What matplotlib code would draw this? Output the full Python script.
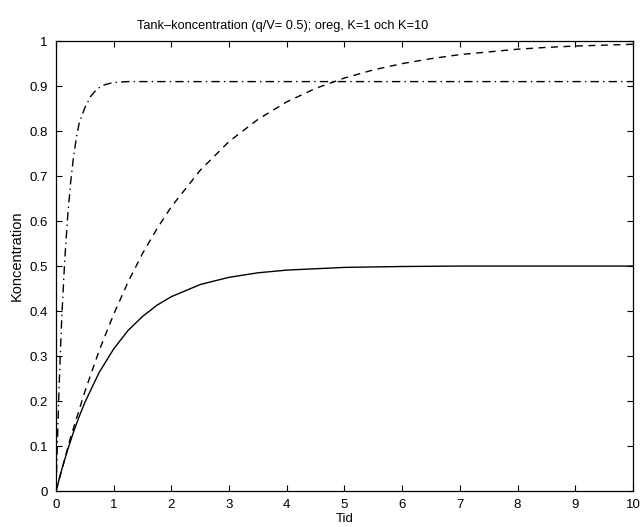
import matplotlib
matplotlib.use("Agg")
import matplotlib.pyplot as plt
import numpy as np

plt.rcParams['font.family'] = ['Liberation Sans', 'DejaVu Sans']

# values
t_oreg = [0, 0.25, 0.5, 0.75, 1, 1.25, 1.5, 1.75, 2, 2.5, 3, 3.5, 4, 4.5, 5, 5.5, 6, 6.5, 7, 7.5, 8, 8.5, 9, 9.5, 10]
c_oreg = [0, 0.118, 0.221, 0.313, 0.393, 0.465, 0.528, 0.583, 0.632, 0.713, 0.777, 0.826, 0.865, 0.895, 0.918,
          0.936, 0.950, 0.961, 0.970, 0.976, 0.982, 0.986, 0.989, 0.991, 0.993]

t_k1 = [0, 0.1, 0.2, 0.3, 0.4, 0.5, 0.75, 1, 1.25, 1.5, 1.75, 2, 2.5, 3, 3.5, 4, 4.5, 5, 6, 7, 8, 10]
c_k1 = [0, 0.048, 0.091, 0.130, 0.165, 0.197, 0.264, 0.316, 0.357, 0.388, 0.413, 0.432, 0.459, 0.475, 0.485,
        0.491, 0.494, 0.497, 0.499, 0.5, 0.5, 0.5]

t_k10 = [0, 0.025, 0.05, 0.075, 0.1, 0.15, 0.2, 0.25, 0.3, 0.35, 0.4, 0.5, 0.6, 0.7, 0.8, 0.9, 1, 1.25, 1.5, 2, 3, 10]
c_k10 = [0, 0.115, 0.218, 0.307, 0.386, 0.511, 0.607, 0.682, 0.739, 0.783, 0.817, 0.852, 0.877, 0.892, 0.901,
         0.905, 0.908, 0.910, 0.910, 0.910, 0.910, 0.910]

xticks = list(range(0, 11))
yticks = [0, 0.1, 0.2, 0.3, 0.4, 0.5, 0.6, 0.7, 0.8, 0.9, 1]
yticklabels = ['0', '0.1', '0.2', '0.3', '0.4', '0.5', '0.6', '0.7', '0.8', '0.9', '1']

fig = plt.figure(figsize=(6.41, 5.27), dpi=100)
ax = fig.add_axes([0.0874, 0.0683, 0.9, 0.8537])

ax.plot(t_oreg, c_oreg, color='black', linewidth=1.0, linestyle=(0, (5, 4)))
ax.plot(t_k1, c_k1, color='black', linewidth=1.0, linestyle='-')
ax.plot(t_k10, c_k10, color='black', linewidth=1.0, linestyle=(0, (6, 3, 1, 3)))

ax.set_xlim(0, 10)
ax.set_ylim(0, 1)
ax.set_xticks(xticks)
ax.set_xticklabels([str(v) for v in xticks], fontsize=9.5)
ax.set_yticks(yticks)
ax.set_yticklabels(yticklabels, fontsize=9.5)
ax.tick_params(direction='in', top=True, right=True, length=4, width=0.8, pad=6)
for s in ax.spines.values():
    s.set_linewidth(0.9)

ax.set_xlabel('Tid', fontsize=9.5, labelpad=1)
ax.set_ylabel('Koncentration', fontsize=10.5, labelpad=3)
ax.yaxis.set_label_coords(-0.056, 0.524)
ax.set_title('Tank\u2013koncentration (q/V= 0.5); oreg, K=1 och K=10', fontsize=9.2, pad=9, x=0.392)

fig.savefig('out.png', dpi=100)
